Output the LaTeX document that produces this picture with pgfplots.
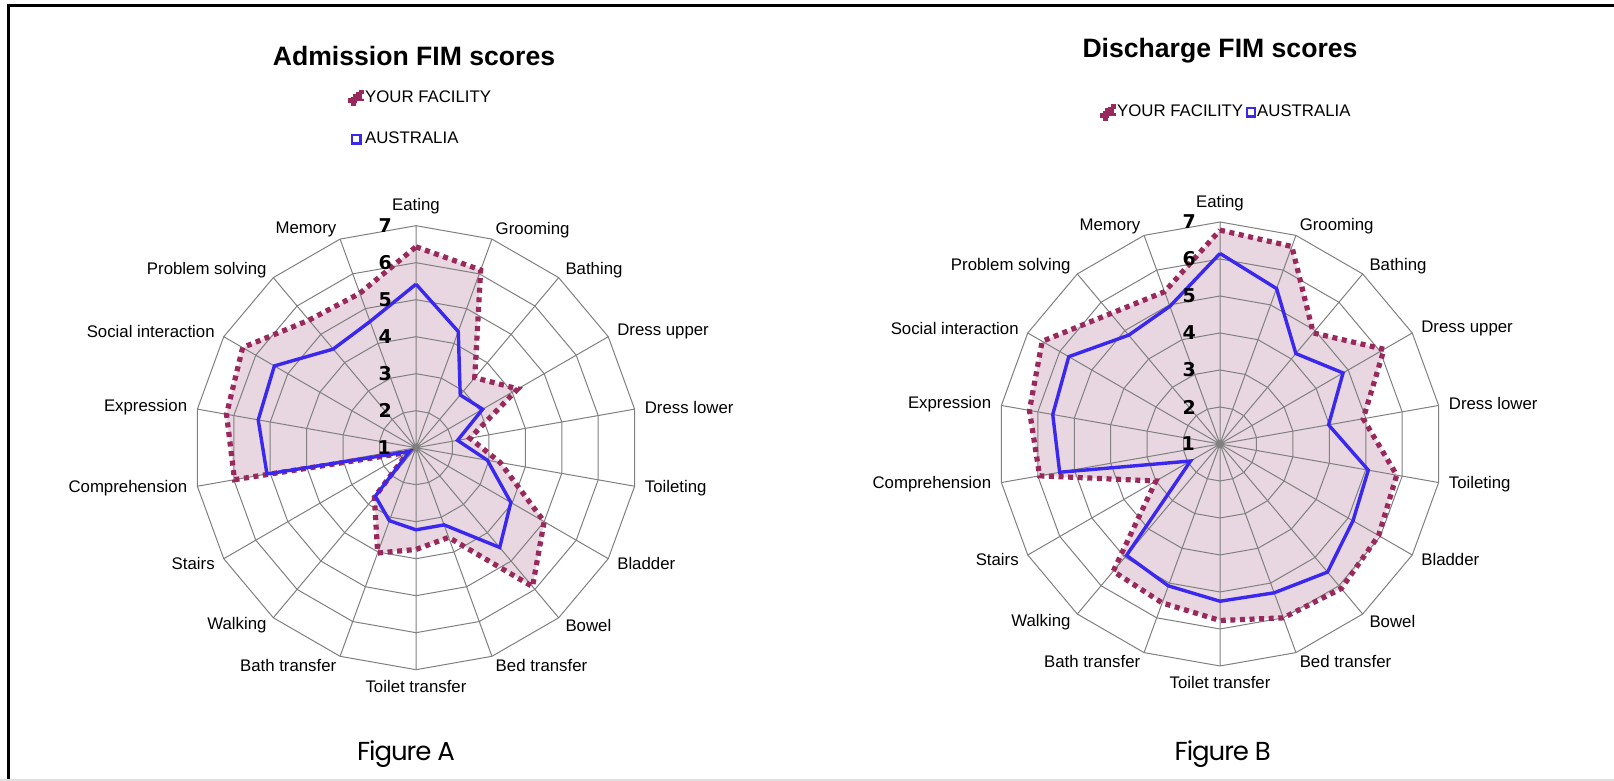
\documentclass[border=0pt]{standalone}
\usepackage{fontspec}
\setmainfont{Liberation Sans}
\newfontfamily\numfont{DejaVu Sans}
\newfontfamily\figfont{Poppins}[LetterSpace=-4]
\usepackage{pgfplots}
\usepackage{pgfplotstable}
\pgfplotsset{compat=1.18}

\definecolor{fac}{RGB}{153,41,92}
\definecolor{aus}{RGB}{58,40,238}
\definecolor{facfill}{RGB}{232,214,224}
\definecolor{gridc}{RGB}{128,128,128}

% angle (deg, clockwise from Eating at top), YOUR FACILITY, AUSTRALIA
\pgfplotstableread{
ang  fac   aus
90   6.43  5.42
70   6.11  4.34
50   3.47  2.86
30   4.18  3.08
10   2.48  2.14
-10  3.31  2.96
-30  5.00  3.96
-50  5.90  4.52
-70  3.58  3.22
-90  3.75  3.22
-110 4.03  3.10
-130 2.75  2.71
-150 1.25  1.20
-170 5.98  5.09
-190 6.20  5.33
-210 6.41  5.42
-230 5.50  4.48
-250 5.44  4.63
-270 6.43  5.42
}\admission

\pgfplotstableread{
ang  fac   aus
90   6.78  6.15
70   6.68  5.47
50   4.92  4.19
30   6.12  4.84
10   4.93  3.98
-10  5.85  5.07
-30  5.95  5.15
-50  6.10  5.52
-70  6.00  5.28
-90  5.77  5.25
-110 5.57  5.08
-130 5.49  4.93
-150 3.00  1.92
-170 5.95  5.40
-190 6.23  5.59
-210 6.55  5.72
-230 5.60  4.84
-250 5.38  4.96
-270 6.78  6.15
}\discharge

\newcommand{\radargrid}{%
  \draw[gridc, line width=0.5pt] \foreach \r in {1,...,6} {
    (axis cs:0,\r) \foreach \a in {70,50,...,-250} { -- (axis cs:{\r*cos(\a)},{\r*sin(\a)}) } -- cycle };
  \draw[gridc, line width=0.5pt] \foreach \a in {90,70,...,-250} {
    (axis cs:0,0) -- (axis cs:{6*cos(\a)},{6*sin(\a)}) };
}
\newcommand{\radarlabels}{%
  \begin{scope}[every node/.style={inner sep=0pt, font=\fontsize{8.4}{10}\selectfont}]
  \node[anchor=south] at (axis cs:{6.3*cos(90)},{6.3*sin(90)}) {Eating};
  \node[anchor=west] at (axis cs:{6.27*cos(70)},{6.27*sin(70)}) {Grooming};
  \node[anchor=west] at (axis cs:{6.27*cos(50)},{6.27*sin(50)}) {Bathing};
  \node[anchor=west] at (axis cs:{6.27*cos(30)},{6.27*sin(30)}) {Dress upper};
  \node[anchor=west] at (axis cs:{6.27*cos(10)},{6.27*sin(10)}) {Dress lower};
  \node[anchor=west] at (axis cs:{6.27*cos(-10)},{6.27*sin(-10)}) {Toileting};
  \node[anchor=west] at (axis cs:{6.27*cos(-30)},{6.27*sin(-30)}) {Bladder};
  \node[anchor=west] at (axis cs:{6.27*cos(-50)},{6.27*sin(-50)}) {Bowel};
  \node[anchor=west] at (axis cs:{6.27*cos(-70)},{6.27*sin(-70)}) {Bed transfer};
  \node[anchor=north] at (axis cs:{6.27*cos(-90)},{6.27*sin(-90)}) {Toilet transfer};
  \node[anchor=east] at (axis cs:{6.27*cos(-110)},{6.27*sin(-110)}) {Bath transfer};
  \node[anchor=east] at (axis cs:{6.27*cos(-130)},{6.27*sin(-130)}) {Walking};
  \node[anchor=east] at (axis cs:{6.27*cos(-150)},{6.27*sin(-150)}) {Stairs};
  \node[anchor=east] at (axis cs:{6.27*cos(-170)},{6.27*sin(-170)}) {Comprehension};
  \node[anchor=east] at (axis cs:{6.27*cos(170)},{6.27*sin(170)}) {Expression};
  \node[anchor=east] at (axis cs:{6.27*cos(150)},{6.27*sin(150)}) {Social interaction};
  \node[anchor=east] at (axis cs:{6.27*cos(130)},{6.27*sin(130)}) {Problem solving};
  \node[anchor=east] at (axis cs:{6.27*cos(110)},{6.27*sin(110)}) {Memory};
  \end{scope}
  \begin{scope}[every node/.style={inner sep=0pt, font=\numfont\bfseries\fontsize{9.5}{11}\selectfont}]
  \node at (axis cs:-0.86,0) {1};
  \node at (axis cs:-0.83,1) {2};
  \node at (axis cs:-0.83,2) {3};
  \node at (axis cs:-0.83,3) {4};
  \node at (axis cs:-0.83,4) {5};
  \node at (axis cs:-0.83,5) {6};
  \node at (axis cs:-0.83,6) {7};
  \end{scope}
}

\pgfplotsset{
  radar/.style={
    x=18.5pt, y=18.5pt,
    xmin=-6.5, xmax=6.5, ymin=-6.5, ymax=6.5,
    hide axis, clip=false, anchor=center,
    legend cell align=left,
    legend style={draw=none, fill=none, inner sep=0pt, anchor=north west,
      font=\fontsize{8.4}{10}\selectfont,
      nodes={inner xsep=0.4pt, inner ysep=1pt},
      /tikz/every odd column/.append style={column sep=0pt},
      /tikz/every even column/.append style={column sep=0.8pt}},
  },
  facline/.style={fac, line width=2.6pt, dash pattern=on 2.5pt off 2.3pt, data cs=polar,
    legend image code/.code={
      \fill[fac] (0pt,-2.9pt) rectangle (2.9pt,0.4pt);
      \fill[fac] (2.4pt,-0.6pt) rectangle (5.5pt,2.7pt);}},
  ausline/.style={aus, line width=1.7pt, data cs=polar,
    legend image code/.code={
      \draw[aus, line width=1.3pt] (0.65pt,-2.1pt) rectangle (4.75pt,2.1pt);}},
}

\begin{document}
\begin{tikzpicture}
\useasboundingbox (0,0) rectangle (807pt,390.5pt);
\fill[white] (0,0) rectangle (807pt,390.5pt);
\draw[black, line width=1.6pt] (4.3pt,0) -- (4.3pt,387.6pt) -- (807pt,387.6pt);
\draw[black!12, line width=0.8pt] (0,0.4pt) -- (807pt,0.4pt);

% ---------- Admission ----------
\begin{axis}[radar, at={(208pt,166.65pt)},
  legend columns=1,
  legend style={at={(0.358,1.248)}, row sep=11.5pt}]
\addplot[fill=facfill, draw=none, data cs=polar, forget plot]
  table[x=ang, y expr=\thisrow{fac}-1] {\admission};
\radargrid
\addplot[facline] table[x=ang, y expr=\thisrow{fac}-1] {\admission};
\addlegendentry{YOUR FACILITY}
\addplot[ausline] table[x=ang, y expr=\thisrow{aus}-1] {\admission};
\addlegendentry{AUSTRALIA}
\radarlabels
\end{axis}

% ---------- Discharge ----------
\begin{axis}[radar, at={(610pt,168.5pt)},
  legend columns=2,
  legend style={at={(0.25,1.21)}}]
\addplot[fill=facfill, draw=none, data cs=polar, forget plot]
  table[x=ang, y expr=\thisrow{fac}-1] {\discharge};
\radargrid
\addplot[facline] table[x=ang, y expr=\thisrow{fac}-1] {\discharge};
\addlegendentry{YOUR FACILITY}
\addplot[ausline] table[x=ang, y expr=\thisrow{aus}-1] {\discharge};
\addlegendentry{AUSTRALIA}
\radarlabels
\end{axis}

\node[anchor=base, font=\bfseries\fontsize{13.3}{15}\selectfont] at (207pt,357.5pt) {Admission FIM scores};
\node[anchor=base, font=\bfseries\fontsize{13.3}{15}\selectfont] at (610pt,361.5pt) {Discharge FIM scores};
\node[anchor=base, font=\figfont\fontsize{13}{15}\selectfont] at (203pt,10pt) {Figure A};
\node[anchor=base, font=\figfont\fontsize{13}{15}\selectfont] at (611.4pt,10pt) {Figure B};
\end{tikzpicture}
\end{document}
